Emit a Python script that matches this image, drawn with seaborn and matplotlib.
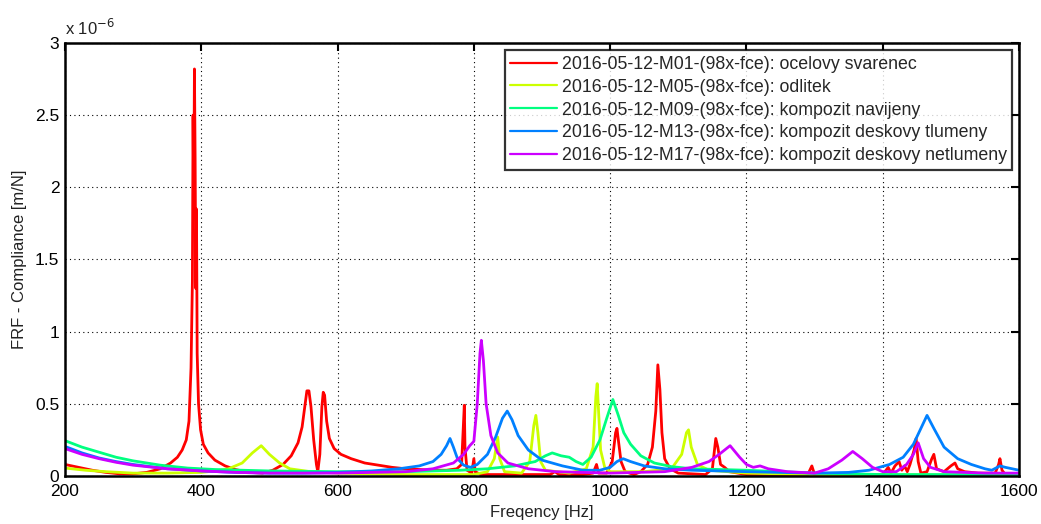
import numpy as np
import pandas as pd
import matplotlib
matplotlib.use("Agg")
import matplotlib.pyplot as plt
import seaborn as sns

# FRF compliance magnitude, in units of 1e-6 m/N, sampled at key frequencies [Hz]
m01_freq = [200, 220, 240, 260, 280, 300, 320, 340, 355, 365, 372, 378, 382, 385, 387, 388, 389, 390,
            391, 392, 393, 394, 396, 399, 403, 410, 420, 435, 450, 470, 490, 505, 520, 532, 542, 548,
            552, 555, 558, 561, 565, 569, 571, 574, 577, 579, 581, 584, 588, 595, 605, 620, 640, 660,
            680, 700, 720, 740, 760, 775, 782, 785, 786, 787, 790, 797, 800, 802, 810, 850, 900, 912,
            919, 925, 960, 975, 980, 983, 995, 1003, 1008, 1010, 1012, 1016, 1022, 1035, 1045, 1055,
            1062, 1067, 1070, 1073, 1076, 1080, 1088, 1100, 1140, 1150, 1155, 1158, 1162, 1168, 1175,
            1200, 1290, 1296, 1300, 1400, 1408, 1412, 1418, 1424, 1428, 1432, 1436, 1440, 1446, 1449,
            1452, 1456, 1465, 1472, 1475, 1479, 1490, 1500, 1506, 1510, 1520, 1540, 1565, 1570, 1572,
            1575, 1580, 1600]
m01_val = [0.08, 0.06, 0.04, 0.025, 0.015, 0.015, 0.025, 0.05, 0.09, 0.13, 0.18, 0.25, 0.38, 0.75,
           1.35, 2.5, 1.9, 2.82, 2.2, 1.3, 1.85, 0.85, 0.5, 0.32, 0.22, 0.16, 0.11, 0.07, 0.045, 0.025,
           0.02, 0.04, 0.08, 0.14, 0.23, 0.34, 0.48, 0.59, 0.59, 0.48, 0.25, 0.08, 0.03, 0.15, 0.48,
           0.58, 0.56, 0.38, 0.26, 0.19, 0.15, 0.12, 0.09, 0.075, 0.06, 0.05, 0.045, 0.04, 0.04, 0.05,
           0.08, 0.4, 0.49, 0.2, 0.04, 0.02, 0.12, 0.03, 0.01, 0.01, 0.01, 0.01, 0.03, 0.01, 0.01,
           0.02, 0.08, 0.02, 0.02, 0.1, 0.3, 0.33, 0.25, 0.1, 0.03, 0.01, 0.03, 0.08, 0.2, 0.45, 0.77,
           0.6, 0.3, 0.12, 0.05, 0.02, 0.01, 0.05, 0.26, 0.2, 0.08, 0.06, 0.03, 0.01, 0.01, 0.07,
           0.01, 0.01, 0.06, 0.02, 0.07, 0.1, 0.04, 0.07, 0.03, 0.08, 0.18, 0.26, 0.1, 0.02, 0.03,
           0.12, 0.15, 0.05, 0.03, 0.07, 0.09, 0.05, 0.03, 0.02, 0.02, 0.08, 0.12, 0.04, 0.01, 0.01]

m05_freq = [200, 230, 260, 300, 350, 400, 420, 440, 460, 475, 488, 500, 515, 530, 560, 600, 700, 800,
            820, 830, 835, 838, 845, 870, 882, 888, 891, 894, 898, 905, 940, 965, 975, 979, 981, 983,
            986, 992, 1000, 1050, 1090, 1105, 1112, 1115, 1119, 1128, 1145, 1200, 1300, 1600]
m05_val = [0.055, 0.04, 0.03, 0.02, 0.02, 0.025, 0.035, 0.05, 0.09, 0.16, 0.21, 0.15, 0.09, 0.05,
           0.03, 0.02, 0.01, 0.01, 0.03, 0.12, 0.27, 0.12, 0.03, 0.02, 0.1, 0.35, 0.42, 0.3, 0.1,
           0.04, 0.02, 0.05, 0.2, 0.55, 0.64, 0.45, 0.18, 0.06, 0.03, 0.03, 0.05, 0.15, 0.3, 0.32,
           0.2, 0.08, 0.04, 0.02, 0.01, 0.005]

m09_freq = [200, 225, 250, 275, 300, 340, 380, 420, 500, 600, 700, 780, 820, 860, 890, 905, 915, 928,
            940, 950, 960, 972, 985, 995, 1004, 1012, 1020, 1030, 1045, 1065, 1090, 1120, 1160, 1200,
            1250, 1300, 1400, 1600]
m09_val = [0.245, 0.2, 0.165, 0.13, 0.105, 0.075, 0.055, 0.045, 0.035, 0.03, 0.03, 0.04, 0.05, 0.07,
           0.1, 0.14, 0.16, 0.14, 0.13, 0.1, 0.08, 0.13, 0.25, 0.4, 0.53, 0.42, 0.3, 0.22, 0.14, 0.09,
           0.065, 0.05, 0.045, 0.04, 0.03, 0.02, 0.01, 0.01]

m13_freq = [200, 225, 250, 275, 300, 350, 400, 450, 500, 550, 600, 650, 690, 720, 740, 752, 760, 765,
            770, 776, 785, 795, 805, 820, 832, 842, 849, 856, 865, 880, 900, 930, 960, 985, 1000, 1010,
            1019, 1030, 1050, 1080, 1120, 1200, 1300, 1350, 1380, 1410, 1430, 1445, 1455, 1465, 1475,
            1490, 1510, 1530, 1550, 1560, 1572, 1580, 1600]
m13_val = [0.205, 0.16, 0.125, 0.1, 0.08, 0.05, 0.035, 0.025, 0.02, 0.02, 0.025, 0.035, 0.05, 0.07,
           0.1, 0.15, 0.21, 0.26, 0.2, 0.12, 0.075, 0.06, 0.08, 0.15, 0.27, 0.4, 0.45, 0.39, 0.28,
           0.18, 0.11, 0.07, 0.04, 0.04, 0.06, 0.1, 0.12, 0.1, 0.07, 0.05, 0.04, 0.03, 0.02, 0.025,
           0.04, 0.08, 0.13, 0.22, 0.32, 0.42, 0.33, 0.2, 0.12, 0.08, 0.05, 0.04, 0.07, 0.06, 0.04]

m17_freq = [200, 225, 250, 275, 300, 350, 400, 450, 500, 600, 650, 700, 740, 770, 785, 794, 800, 805,
            809, 811, 814, 818, 825, 835, 850, 880, 920, 1000, 1080, 1120, 1145, 1160, 1176, 1190,
            1200, 1210, 1220, 1232, 1260, 1300, 1320, 1340, 1356, 1370, 1385, 1400, 1420, 1435, 1445,
            1452, 1460, 1470, 1490, 1550, 1600]
m17_val = [0.19, 0.15, 0.12, 0.095, 0.075, 0.05, 0.035, 0.025, 0.02, 0.02, 0.025, 0.03, 0.05, 0.09,
           0.15, 0.21, 0.24, 0.5, 0.85, 0.94, 0.8, 0.5, 0.28, 0.16, 0.09, 0.05, 0.03, 0.02, 0.03,
           0.06, 0.1, 0.15, 0.21, 0.13, 0.08, 0.06, 0.07, 0.05, 0.03, 0.02, 0.05, 0.11, 0.17, 0.12,
           0.06, 0.03, 0.03, 0.08, 0.15, 0.23, 0.12, 0.06, 0.03, 0.02, 0.02]

labels = [
    "2016-05-12-M01-(98x-fce): ocelovy svarenec",
    "2016-05-12-M05-(98x-fce): odlitek",
    "2016-05-12-M09-(98x-fce): kompozit navijeny",
    "2016-05-12-M13-(98x-fce): kompozit deskovy tlumeny",
    "2016-05-12-M17-(98x-fce): kompozit deskovy netlumeny",
]
colors = ["#ff0000", "#ccff00", "#00ff80", "#0080ff", "#cc00ff"]

series = [(m01_freq, m01_val), (m05_freq, m05_val), (m09_freq, m09_val),
          (m13_freq, m13_val), (m17_freq, m17_val)]
frames = []
for lab, (f, v) in zip(labels, series):
    frames.append(pd.DataFrame({"freq": f, "comp": v, "meas": lab}))
df = pd.concat(frames, ignore_index=True)

sns.set_theme(style="white")
plt.rcParams["font.family"] = ["Liberation Sans", "DejaVu Sans"]

fig = plt.figure(figsize=(10.41, 5.24), dpi=100)
ax = fig.add_axes([0.0624, 0.0916, 0.9165, 0.8264])

sns.lineplot(data=df, x="freq", y="comp", hue="meas", hue_order=labels,
             palette=dict(zip(labels, colors)), estimator=None, sort=False,
             linewidth=2.0, ax=ax)

ax.set_xlim(200, 1600)
ax.set_ylim(0, 3)
ax.set_xticks(np.arange(200, 1601, 200))
ax.set_yticks(np.arange(0, 3.01, 0.5))
ax.set_yticklabels(["0", "0.5", "1", "1.5", "2", "2.5", "3"])
ax.grid(True, linestyle=(0, (1, 3)), color="black", linewidth=0.8)
ax.tick_params(direction="in", length=6, width=1.5, top=True, right=True,
               labelsize=12.5, colors="black")
ax.tick_params(axis="x", pad=6)
ax.tick_params(axis="y", pad=4)
for sp in ax.spines.values():
    sp.set_visible(True)
    sp.set_color("black")
    sp.set_linewidth(1.8)

ax.set_xlabel("Freqency [Hz]", fontsize=12, color="#222222", labelpad=4)
ax.set_ylabel("FRF - Compliance [m/N]", fontsize=12, color="#222222", labelpad=6)
ax.text(0.0, 1.012, r"x 10$^{-6}$", transform=ax.transAxes, fontsize=12,
        ha="left", va="bottom", color="#222222")

handles, _ = ax.get_legend_handles_labels()
leg = ax.legend(handles, labels, loc="upper right", bbox_to_anchor=(0.9985, 0.995),
                fontsize=12.8, frameon=True, fancybox=False, handlelength=2.6,
                handletextpad=0.3, borderpad=0.3, labelspacing=0.33, borderaxespad=0.3)
leg.get_frame().set_edgecolor("black")
leg.get_frame().set_linewidth(1.6)
for line in leg.get_lines():
    line.set_linewidth(1.6)

fig.savefig("out.png", dpi=100, facecolor="white")
